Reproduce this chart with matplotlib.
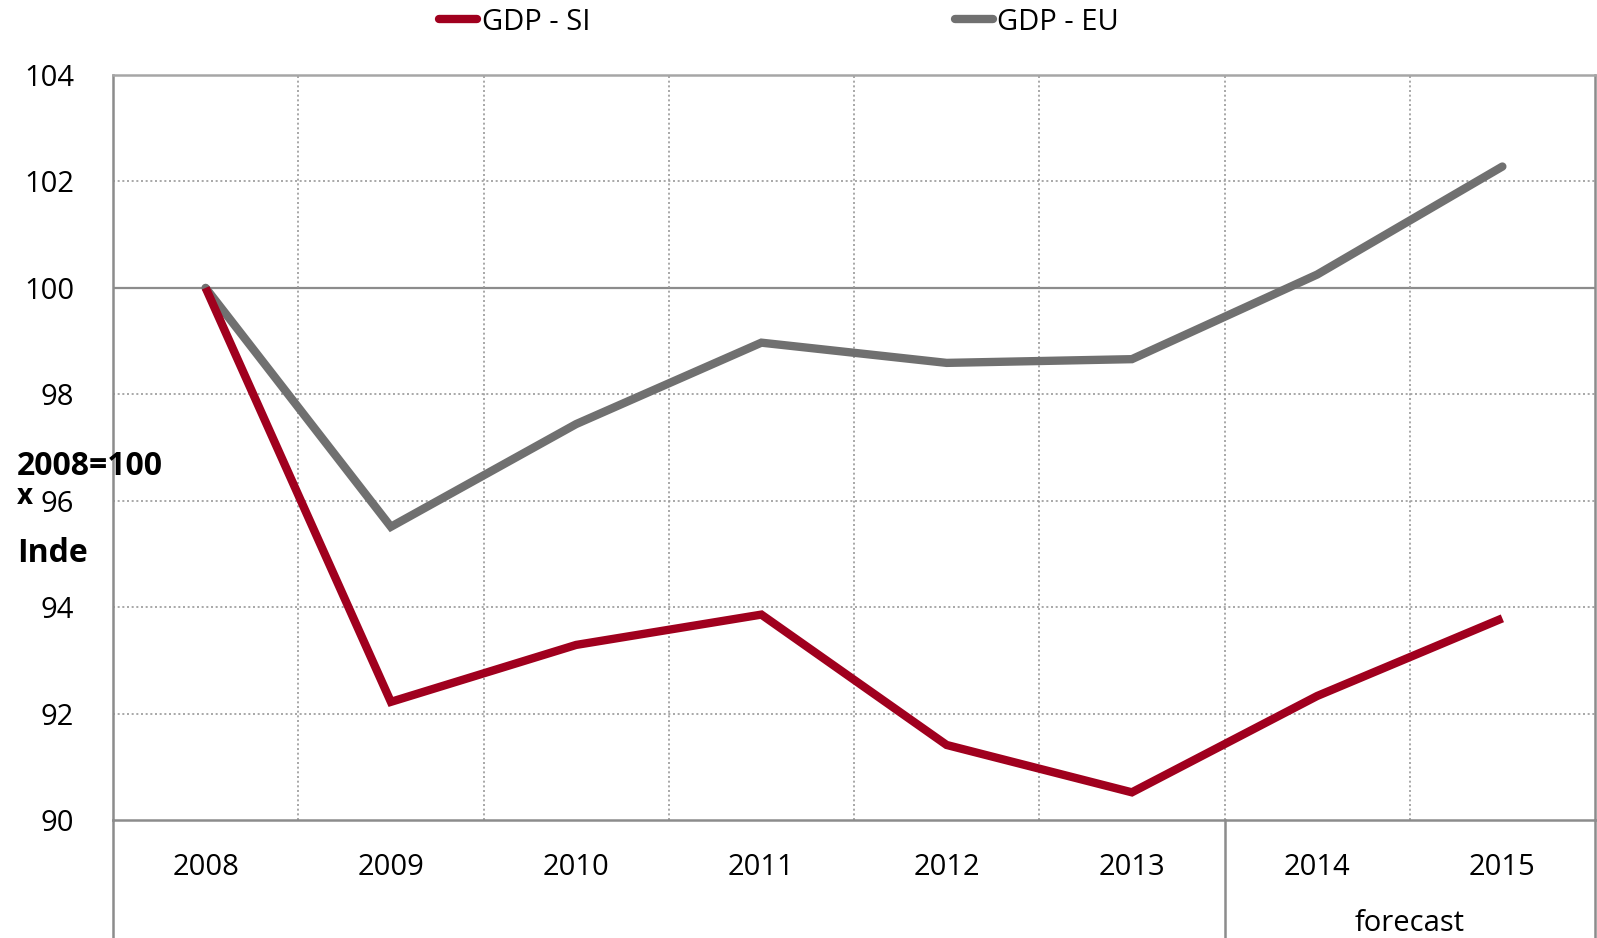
import matplotlib.pyplot as plt
import matplotlib.transforms as mtransforms
from matplotlib.lines import Line2D

# ---------------------------------------------------------
# Data (index 2008=100)
# ---------------------------------------------------------
years = ["2008", "2009", "2010", "2011", "2012", "2013", "2014", "2015"]
gdp_si = [100.0, 92.22, 93.29, 93.86, 91.41, 90.52, 92.33, 93.79]
gdp_eu = [100.0, 95.51, 97.44, 98.97, 98.59, 98.66, 100.25, 102.28]
y_ticks = [90, 92, 94, 96, 98, 100, 102, 104]

RED = "#a0001e"
GREY = "#707070"
AXIS = "#8c8c8c"
FONT = "Open Sans"

plt.rcParams["font.family"] = FONT

fig = plt.figure(figsize=(15.97, 9.38), dpi=100)
ax = fig.add_axes([113 / 1597, 118 / 938, 1482 / 1597, 745 / 938])

x = list(range(len(years)))
ax.plot(x, gdp_si, color=RED, linewidth=6, solid_joinstyle="miter", solid_capstyle="butt", zorder=4)
ax.plot(x, gdp_eu, color=GREY, linewidth=6, solid_joinstyle="miter", solid_capstyle="round", zorder=3)

ax.set_xlim(-0.5, len(years) - 0.5)
ax.set_ylim(90, 104)

# grid
for yv in y_ticks[1:-1]:
    if yv == 100:
        ax.axhline(yv, color=AXIS, linewidth=1.6, zorder=1)
    else:
        ax.axhline(yv, color="#9a9a9a", linewidth=1.2, linestyle=(0, (1.2, 1.6)), zorder=1)
for xv in range(len(years) - 1):
    ax.axvline(xv + 0.5, color="#9a9a9a", linewidth=1.2, linestyle=(0, (1.2, 1.6)), zorder=1)

for s in ax.spines.values():
    s.set_color(AXIS)
    s.set_linewidth(1.8)
ax.spines["top"].set_color("#a6a6a6")

ax.set_yticks(y_ticks)
ax.set_yticklabels([str(v) for v in y_ticks], fontsize=21)
ax.set_xticks(x)
ax.set_xticklabels(years, fontsize=21)
ax.tick_params(axis="both", length=0)
ax.tick_params(axis="y", pad=28)
ax.tick_params(axis="x", pad=24)

# separators below the plot area
trans = mtransforms.blended_transform_factory(ax.transData, ax.transAxes)
for xv in [-0.5, 5.5, 7.5]:
    ax.plot([xv, xv], [0, -118 / 745], transform=trans, color=AXIS, linewidth=1.8, clip_on=False)

ax.text(6.5, -103 / 745, "forecast", transform=trans, ha="center", va="center", fontsize=21)

# y label (as rendered in the original)
fig.text(17 / 1597, 1 - 466 / 938, "2008=100", fontsize=23, fontweight="bold", ha="left", va="center")
fig.text(17 / 1597, 1 - 496 / 938, "x", fontsize=20, fontweight="bold", ha="left", va="center")
fig.text(17 / 1597, 1 - 553 / 938, "Inde", fontsize=23, fontweight="bold", ha="left", va="center")

# legend
handles = [
    Line2D([], [], color=RED, linewidth=6, solid_capstyle="round"),
    Line2D([], [], color=GREY, linewidth=6, solid_capstyle="round"),
]
fig.legend(handles, ["GDP - SI", "GDP - EU"], loc="center", bbox_to_anchor=(779 / 1597, 1 - 22 / 938),
           ncol=2, frameon=False, fontsize=21, handlelength=1.3, handletextpad=0.15, columnspacing=12.5)

fig.savefig("out.png", dpi=100)
